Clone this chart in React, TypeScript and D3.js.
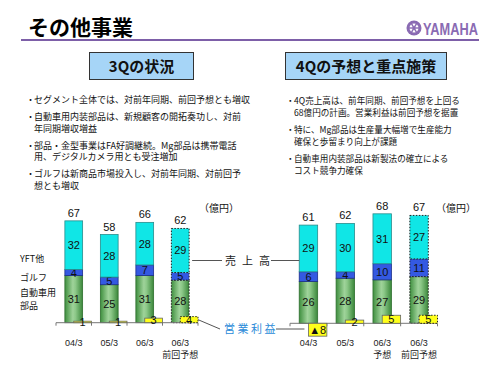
import React from 'react';
import * as d3 from 'd3';

// ---------- data ----------
const seriesKeys = ["auto", "golf", "yft"];
const seriesLegend = ["YFT他", "ゴルフ", "自動車用", "部品"];

const leftCategories = ["04/3", "05/3", "06/3", "06/3"];
const leftSubLabels = ["", "", "", "前回予想"];
const leftAuto = [31, 25, 31, 28];
const leftGolf = [4, 5, 7, 5];
const leftYft = [32, 28, 28, 29];
const leftTotal = [67, 58, 66, 62];
const leftProfit = [1, 1, 3, 4];
const leftProfitLabels = ["1", "1", "3", "4"];

const rightCategories = ["04/3", "05/3", "06/3", "06/3"];
const rightSubLabels = ["", "", "予想", "前回予想"];
const rightAuto = [26, 28, 27, 29];
const rightGolf = [6, 4, 10, 11];
const rightYft = [29, 30, 31, 27];
const rightTotal = [61, 62, 68, 67];
const rightProfit = [-8, 2, 5, 5];
const rightProfitLabels = ["▲8", "2", "5", "5"];

const leftBullets = [
  ["セグメント全体では、対前年同期、前回予想とも増収"],
  ["自動車用内装部品は、新規顧客の開拓奏功し、対前", "年同期増収増益"],
  ["部品・金型事業はFA好調継続。Mg部品は携帯電話", "用、デジタルカメラ用とも受注増加"],
  ["ゴルフは新商品市場投入し、対前年同期、対前回予", "想とも増収"],
];
const rightBullets = [
  ["4Q売上高は、前年同期、前回予想を上回る", "68億円の計画。営業利益は前回予想を据置"],
  ["特に、Mg部品は生産量大幅増で生産能力", "確保と歩留まり向上が課題"],
  ["自動車用内装部品は新製法の確立による", "コスト競争力確保"],
];

const JP = '"Noto Sans CJK JP", "Noto Sans", sans-serif';
const NUM = '"Liberation Sans", Arial, sans-serif';

const COLORS: Record<string, string> = { yft: "#10e6e6", golf: "#3459e2" };
const STROKES: Record<string, string> = { auto: "#2f6f2f", golf: "#1c2e8a", yft: "#2a8c8c" };

function makeScales(x0: number, x1: number, base: number, ppu: number, n: number) {
  const x = d3.scaleBand<number>().domain(d3.range(n)).range([x0, x1]).paddingInner(0.5).paddingOuter(0.25);
  const y = d3.scaleLinear().domain([0, 70]).range([base, base - 70 * ppu]);
  return { x, y };
}

type ChartProps = {
  x: d3.ScaleBand<number>;
  y: d3.ScaleLinear<number, number>;
  x0: number; x1: number;
  cats: string[]; sub: string[];
  auto: number[]; golf: number[]; yft: number[];
  total: number[]; profit: number[]; profitLabels: string[];
  dashedIndex: number;
};

function StackChart(p: ChartProps) {
  const { x, y } = p;
  const idx = p.cats.map((_, i) => i);
  const rows = idx.map(i => ({ i, auto: p.auto[i], golf: p.golf[i], yft: p.yft[i] }));
  const series = d3.stack<any>().keys(seriesKeys)(rows);
  const bw = x.bandwidth();
  const step = x.step();
  const base = y(0);
  const ticks = d3.range(p.cats.length + 1).map(k => p.x0 + k * step);
  return (
    <g>
      {series.map(s => (
        <g key={s.key}>
          {s.map((d, j) => {
            const dashed = j === p.dashedIndex;
            const top = y(d[1]);
            const bot = y(d[0]);
            return (
              <g key={j}>
                <rect x={x(j)} y={top} width={bw} height={bot - top}
                  fill={s.key === "auto" ? "url(#greenGrad)" : COLORS[s.key]}
                  stroke={dashed ? "#222" : STROKES[s.key]} strokeWidth={dashed ? 1 : 0.8}
                  strokeDasharray={dashed ? "1.5,1.5" : undefined} />
                <text x={(x(j) as number) + bw / 2} y={(top + bot) / 2} dy="0.36em" textAnchor="middle"
                  fontFamily={NUM} fontSize={11} fill="#111">{(d[1] - d[0])}</text>
              </g>
            );
          })}
        </g>
      ))}
      {idx.map(i => (
        <text key={"t" + i} x={(x(i) as number) + bw / 2} y={y(p.total[i]) - 4} textAnchor="middle"
          fontFamily={NUM} fontSize={11} fill="#111">{p.total[i]}</text>
      ))}
      <line x1={p.x0} x2={p.x1} y1={base} y2={base} stroke="#777" strokeWidth={1} />
      {ticks.map((t, k) => (
        <line key={"k" + k} x1={t} x2={t} y1={base} y2={base + 3} stroke="#777" strokeWidth={1} />
      ))}
      {idx.map(i => {
        const v = p.profit[i];
        const bx = (x(i) as number) + bw / 2;
        const top = y(Math.max(0, v));
        const bot = y(Math.min(0, v));
        const dashed = i === p.dashedIndex;
        return (
          <g key={"p" + i}>
            <rect x={bx} y={top} width={bw} height={Math.max(1.5, bot - top)} fill="#ffff1a"
              stroke={dashed ? "#222" : "#666"} strokeWidth={dashed ? 1 : 0.8}
              strokeDasharray={dashed ? "1.5,1.5" : undefined} />
            <text x={bx + bw / 2} y={(top + bot) / 2} dy="0.36em" textAnchor="middle"
              fontFamily={NUM} fontSize={11} fill="#111">{p.profitLabels[i]}</text>
          </g>
        );
      })}
      {idx.map(i => (
        <g key={"c" + i}>
          <text x={(x(i) as number) + bw / 2} y={base + 23} textAnchor="middle" fontFamily={NUM}
            fontSize={9} fill="#222">{p.cats[i]}</text>
          {p.sub[i] && (
            <text x={(x(i) as number) + bw / 2} y={base + 35} textAnchor="middle" fontFamily={JP}
              fontSize={9} fill="#222">{p.sub[i]}</text>
          )}
        </g>
      ))}
    </g>
  );
}

function Bullets({ items, x, y0, lh, gap, fs }: { items: string[][]; x: number; y0: number; lh: number; gap: number; fs: number }) {
  let yy = y0;
  const out: React.ReactNode[] = [];
  items.forEach((lines, bi) => {
    out.push(<text key={"b" + bi} x={x - 8} y={yy} fontFamily={JP} fontSize={fs} fill="#111">・</text>);
    lines.forEach((ln, li) => {
      out.push(<text key={bi + "-" + li} x={x} y={yy} fontFamily={JP} fontSize={fs} fill="#111">{ln}</text>);
      yy += li === lines.length - 1 ? gap : lh;
    });
  });
  return <g>{out}</g>;
}

export default function App() {
  const L = makeScales(56, 198, 322.7, 1.52, leftCategories.length);
  const R = makeScales(290, 437.5, 323.3, 1.61, rightCategories.length);
  const lbw = L.x.bandwidth();
  const rbw = R.x.bandwidth();
  const lastL = leftCategories.length - 1;
  const salesY = 260.5;
  const profitStartX = (L.x(lastL) as number) + lbw * 1.5;
  const profitStartY = (L.y(leftProfit[lastL]) + L.y(0)) / 2;
  const profitEndX = (R.x(0) as number) + rbw / 2;
  const labelY = 329;
  return (
    <svg width={500} height={375} style={{ position: 'absolute', left: 0, top: 0, background: '#fff' }}>
      <defs>
        <linearGradient id="greenGrad" x1="0" x2="1" y1="0" y2="0">
          <stop offset="0" stopColor="#3f8f3f" />
          <stop offset="0.45" stopColor="#9fd39a" />
          <stop offset="0.6" stopColor="#8cc888" />
          <stop offset="1" stopColor="#3a873a" />
        </linearGradient>
      </defs>
      {/* header */}
      <text x={28} y={35} fontFamily={JP} fontWeight="bold" fontSize={21} fill="#000">その他事業</text>
      <line x1={21} x2={479} y1={40} y2={40} stroke="#7d5fa8" strokeWidth={2} />
      <g>
        <circle cx={414} cy={28} r={7.5} fill="#8a6bb3" />
        <circle cx={414} cy={28} r={4.5} fill="#fff" />
        {[0, 60, 120].map(a => (
          <line key={a} x1={414 + 6 * Math.cos(a * Math.PI / 180)} y1={28 + 6 * Math.sin(a * Math.PI / 180)}
            x2={414 - 6 * Math.cos(a * Math.PI / 180)} y2={28 - 6 * Math.sin(a * Math.PI / 180)}
            stroke="#8a6bb3" strokeWidth={1.4} />
        ))}
        <circle cx={414} cy={28} r={1.5} fill="#8a6bb3" />
        <text x={423} y={34.5} fontFamily={NUM} fontWeight="bold" fontSize={16} fill="#8a6bb3"
          textLength={55} lengthAdjust="spacingAndGlyphs">YAMAHA</text>
      </g>
      {/* section titles */}
      <rect x={89.5} y={52.5} width={104} height={27} fill="#a6d5f7" stroke="#333" strokeWidth={1} />
      <text x={141.5} y={71.5} textAnchor="middle" fontFamily={JP} fontWeight="bold" fontSize={15} fill="#111">3Qの状況</text>
      <rect x={285.5} y={52.5} width={161} height={27} fill="#a6d5f7" stroke="#333" strokeWidth={1} />
      <text x={366} y={71.5} textAnchor="middle" fontFamily={JP} fontWeight="bold" fontSize={15} fill="#111">4Qの予想と重点施策</text>
      {/* bullets */}
      <Bullets items={leftBullets} x={34} y0={103} lh={11.5} gap={17} fs={9} />
      <Bullets items={rightBullets} x={294} y0={104} lh={12} gap={17} fs={8.6} />
      {/* charts */}
      <StackChart x={L.x} y={L.y} x0={56} x1={198} cats={leftCategories} sub={leftSubLabels}
        auto={leftAuto} golf={leftGolf} yft={leftYft} total={leftTotal} profit={leftProfit}
        profitLabels={leftProfitLabels} dashedIndex={3} />
      <StackChart x={R.x} y={R.y} x0={290} x1={437.5} cats={rightCategories} sub={rightSubLabels}
        auto={rightAuto} golf={rightGolf} yft={rightYft} total={rightTotal} profit={rightProfit}
        profitLabels={rightProfitLabels} dashedIndex={3} />
      {/* legend labels */}
      <text x={20} y={262} fontFamily={JP} fontSize={9} fill="#111">{seriesLegend[0]}</text>
      <text x={20} y={281} fontFamily={JP} fontSize={9} fill="#111">{seriesLegend[1]}</text>
      <text x={20} y={296} fontFamily={JP} fontSize={9} fill="#111">{seriesLegend[2]}</text>
      <text x={20} y={308.5} fontFamily={JP} fontSize={9} fill="#111">{seriesLegend[3]}</text>
      {/* units */}
      <text x={199} y={212} fontFamily={JP} fontSize={10} fill="#111">（億円）</text>
      <text x={436} y={212} fontFamily={JP} fontSize={10} fill="#111">（億円）</text>
      {/* sales annotation */}
      <line x1={(L.x(lastL) as number) + lbw + 3} x2={222} y1={salesY} y2={salesY} stroke="#555" strokeWidth={1} />
      <text x={225} y={salesY + 4} fontFamily={JP} fontSize={11} fill="#222" letterSpacing={6}>売上高</text>
      <line x1={271} x2={R.x(0) as number} y1={salesY} y2={salesY} stroke="#555" strokeWidth={1} />
      {/* profit annotation */}
      <line x1={profitStartX} y1={profitStartY} x2={220} y2={labelY} stroke="#555" strokeWidth={1} />
      <text x={224} y={labelY + 4} fontFamily={JP} fontSize={11} fill="#2a8ad8" letterSpacing={2.5}>営業利益</text>
      <line x1={276} x2={profitEndX - 4} y1={labelY} y2={labelY} stroke="#555" strokeWidth={1} />
    </svg>
  );
}
